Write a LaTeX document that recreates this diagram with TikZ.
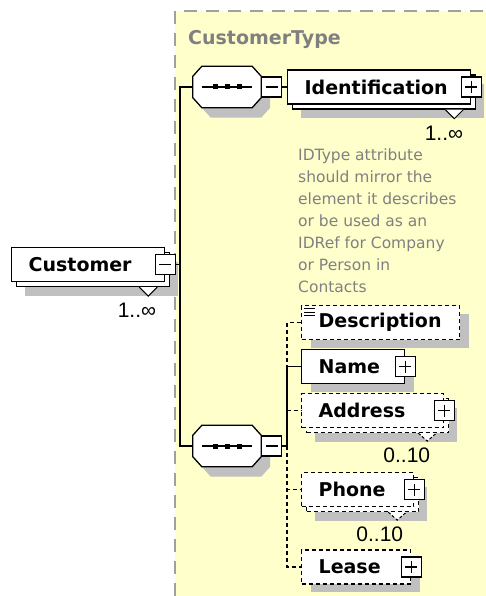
\documentclass[tikz,border=0pt]{standalone}
\usepackage{fontspec}
\setmainfont{DejaVu Sans}
\newfontfamily\occfont{Liberation Sans}
\usepackage{xcolor}
\usetikzlibrary{positioning}
\definecolor{typebg}{HTML}{FFFFCC}
\definecolor{typeline}{HTML}{A0A0A0}
\definecolor{notegray}{HTML}{808080}
\definecolor{shadowgray}{HTML}{C0C0C0}

\begin{document}
\begin{tikzpicture}[
        x=1pt, y=-1pt,
        elem/.style={
            rectangle,
            draw=black,
            fill=white,
            line width=1.3pt,
            anchor=west,
            align=left,
            font=\fontsize{19}{22}\selectfont\bfseries,
            inner xsep=17pt,
            inner ysep=0pt,
            minimum height=34pt
        },
        optbox/.style={
            dash pattern=on 4pt off 3pt
        },
        boxshadow/.style={
            preaction={fill=shadowgray, draw=none, transform canvas={shift={(9pt,-8pt)}}}
        },
        multibox/.style={
            preaction={fill=shadowgray, draw=none, transform canvas={shift={(13pt,-14pt)}}},
            preaction={fill=white, draw=black, line width=1.3pt, solid, transform canvas={shift={(5pt,-5pt)}}}
        },
        optmultibox/.style={
            preaction={fill=shadowgray, draw=none, transform canvas={shift={(13pt,-14pt)}}},
            preaction={fill=white, draw=black, line width=1.3pt, dash pattern=on 4pt off 3pt, transform canvas={shift={(5pt,-5pt)}}}
        },
        tog/.style={
            rectangle,
            draw=black,
            fill=white,
            solid,
            line width=1.2pt,
            minimum size=20pt,
            inner sep=0pt
        },
        minusbox/.style={
            tog,
            path picture={
                \draw[line width=1.2pt] ([xshift=4pt]path picture bounding box.west) -- ([xshift=-4pt]path picture bounding box.east);
            }
        },
        plusbox/.style={
            tog,
            path picture={
                \draw[line width=1.2pt] ([xshift=4pt]path picture bounding box.west) -- ([xshift=-4pt]path picture bounding box.east);
                \draw[line width=1.2pt] ([yshift=-4pt]path picture bounding box.north) -- ([yshift=4pt]path picture bounding box.south);
            }
        },
        seq/.style={
            rectangle,
            minimum width=68pt,
            minimum height=41pt,
            inner sep=0pt
        },
        octa/.style={
            draw=black,
            fill=white,
            line width=1.3pt,
            preaction={fill=shadowgray, draw=none, transform canvas={shift={(9pt,-10pt)}}}
        },
        notch/.style={
            draw=black,
            fill=white,
            line width=1pt
        },
        occ/.style={
            anchor=north east,
            inner sep=0pt,
            font=\occfont\fontsize{21}{24}\selectfont
        },
        typelabel/.style={
            text=notegray,
            inner sep=0pt,
            font=\fontsize{19}{22}\selectfont\bfseries
        },
        note/.style={
            text=notegray,
            align=left,
            inner sep=0pt,
            font=\fontsize{15.5}{21.9}\selectfont
        },
        link/.style={
            draw=black,
            line width=1.3pt
        },
        optlink/.style={
            link,
            dash pattern=on 4pt off 3pt
        }
    ]
        \useasboundingbox (0,0) rectangle (486,596);

        % CustomerType area
        \fill[typebg] (175,11) rectangle (486,596);
        \draw[typeline, line width=2pt, dash pattern=on 13pt off 9pt] (175,596) -- (175,11) -- (486,11);
        \node[typelabel, anchor=base west] (typename) at (188,45) {CustomerType};

        % Customer
        \node[elem, multibox, text width=119pt] (cust) at (11,264.5) {Customer};
        \node[minusbox] (custtog) at (cust.east) {};

        % sequences
        \node[seq] (seqtop) at (227,87) {};
        \node[seq] (seqbot) at (227,446) {};
        \foreach \s in {seqtop,seqbot} {
            \draw[octa] ([xshift=9pt]\s.north west) -- ([xshift=-9pt]\s.north east)
                -- ([yshift=-10pt]\s.north east) -- ([yshift=10pt]\s.south east)
                -- ([xshift=-9pt]\s.south east) -- ([xshift=9pt]\s.south west)
                -- ([yshift=10pt]\s.south west) -- ([yshift=-10pt]\s.north west) -- cycle;
            \draw[line width=1.5pt] ([xshift=9pt]\s.west) -- ([xshift=-9pt]\s.east);
            \foreach \dx in {-12pt,0pt,12pt}
                \fill[black] ([xshift=\dx]\s.center) +(-2.5pt,-2.5pt) rectangle +(2.5pt,2.5pt);
        }
        \node[minusbox, right=0pt of seqtop] (seqtoptog) {};
        \node[minusbox, right=0pt of seqbot] (seqbottog) {};

        % Identification
        \node[elem, multibox, text width=149pt] (ident) at (287,87) {Identification};
        \node[plusbox] (identtog) at (ident.east) {};
        \node[note, anchor=north west] (idnote) at (298,149) {IDType attribute\\should mirror the\\element it describes\\or be used as an\\IDRef for Company\\or Person in\\Contacts};

        % children of the second sequence
        \node[elem, optbox, boxshadow, text width=124pt] (desc) at (301,322.5) {Description};
        \node[elem, boxshadow, text width=69pt] (name) at (301,366.5) {Name};
        \node[plusbox] (nametog) at (name.east) {};
        \node[elem, optbox, optmultibox, text width=108pt] (addr) at (301,410.5) {Address};
        \node[plusbox] (addrtog) at (addr.east) {};
        \node[elem, optbox, optmultibox, text width=78pt] (phone) at (301,489.5) {Phone};
        \node[plusbox] (phonetog) at (phone.east) {};
        \node[elem, optbox, boxshadow, text width=75pt] (lease) at (301,567) {Lease};
        \node[plusbox] (leasetog) at (lease.east) {};

        % text icon
        \foreach \dy in {4pt,7.3pt,10.6pt}
            \draw[line width=0.8pt] ([xshift=3pt,yshift=-\dy]desc.north west) -- ++(11pt,0pt);

        % notches
        \foreach \n in {cust,ident}
            \draw[notch] ([shift={(-26pt,-5pt)}]\n.south east) -- ([shift={(-17pt,-14pt)}]\n.south east) -- ([shift={(-8pt,-5pt)}]\n.south east);
        \foreach \n in {addr,phone}
            \draw[notch, dash pattern=on 3pt off 2pt] ([shift={(-26pt,-5pt)}]\n.south east) -- ([shift={(-17pt,-13pt)}]\n.south east) -- ([shift={(-8pt,-5pt)}]\n.south east);

        % occurrences
        \node[occ] (custocc) at ([shift={(-9pt,-21pt)}]cust.south east) {1..∞};
        \node[occ] (identocc) at ([shift={(-8pt,-21pt)}]ident.south east) {1..∞};
        \node[occ] (addrocc) at ([shift={(-14pt,-19pt)}]addr.south east) {0..10};
        \node[occ] (phoneocc) at ([shift={(-11pt,-19pt)}]phone.south east) {0..10};

        % connectors
        \coordinate (fork) at (180,264.5);
        \coordinate (bus) at (287,446);
        \draw[link] (custtog.east) -- (fork) |- (seqtop.west);
        \draw[link] (fork) |- (seqbot.west);
        \draw[link] (seqtoptog.east) -- (ident.west);
        \draw[link] (seqbottog.east) -- (bus);
        \foreach \n in {desc,addr,phone,lease}
            \draw[optlink] (bus) |- (\n.west);
        \draw[link] (bus) |- (name.west);
    \end{tikzpicture}
\end{document}
